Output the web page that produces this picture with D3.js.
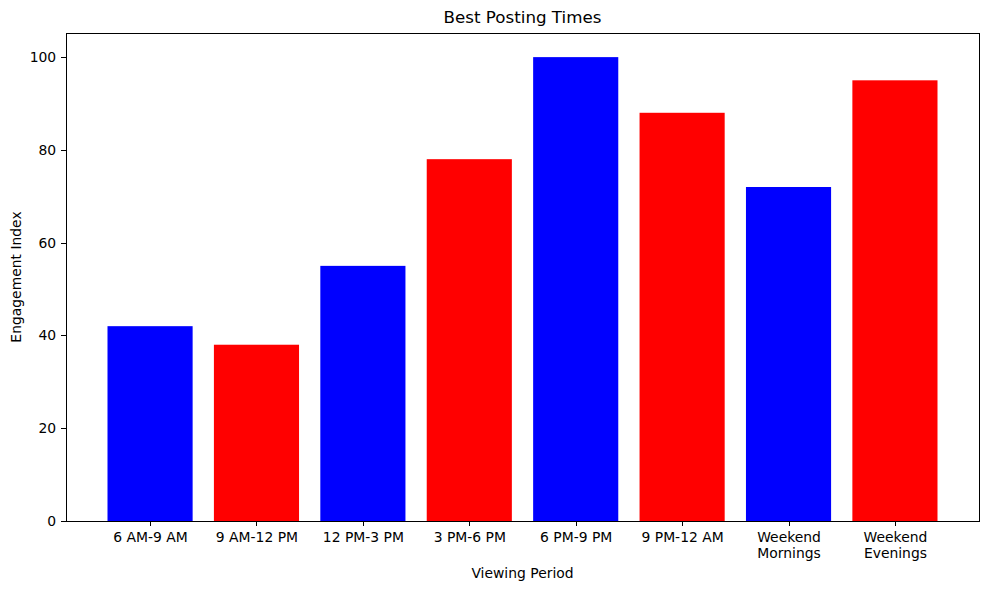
<!DOCTYPE html>
<html>
<head>
<meta charset="utf-8">
<script src="https://cdn.jsdelivr.net/npm/d3@7"></script>
<style>
  body { margin: 0; background: #fff; }
  text { font-family: "DejaVu Sans", sans-serif; }
</style>
</head>
<body>
<svg id="chart" width="989" height="590"></svg>
<script>
"use strict";

const periods = ["6 AM-9 AM", "9 AM-12 PM", "12 PM-3 PM", "3 PM-6 PM", "6 PM-9 PM", "9 PM-12 AM", "Weekend\nMornings", "Weekend\nEvenings"];
const engagement = [42, 38, 55, 78, 100, 88, 72, 95];
const barColors = ["#0000ff", "#ff0000", "#0000ff", "#ff0000", "#0000ff", "#ff0000", "#0000ff", "#ff0000"];
const yTicks = [0, 20, 40, 60, 80, 100];

const svg = d3.select("#chart");
const margin = { left: 66, right: 10, top: 33, bottom: 69 };
const width = 989 - margin.left - margin.right;
const height = 590 - margin.top - margin.bottom;

const g = svg.append("g").attr("transform", `translate(${margin.left},${margin.top})`);

const x = d3.scaleLinear().domain([-0.79, periods.length - 1 + 0.79]).range([0, width]);
const y = d3.scaleLinear().domain([0, 105.2]).range([height, 0]);
const barW = x(0.8) - x(0);

g.selectAll("rect.bar")
  .data(engagement)
  .enter()
  .append("rect")
  .attr("class", "bar")
  .attr("x", (d, i) => x(i) - barW / 2)
  .attr("y", (d) => y(d))
  .attr("width", barW)
  .attr("height", (d) => y(0) - y(d))
  .attr("fill", (d, i) => barColors[i]);

// y axis
const yAxis = g.append("g")
  .call(d3.axisLeft(y).tickValues(yTicks).tickSize(4.9).tickPadding(4.9));
yAxis.select(".domain").remove();
yAxis.selectAll("text").attr("font-size", "13.9px").attr("font-family", "DejaVu Sans").attr("fill", "#000");
yAxis.selectAll("line").attr("stroke", "#000").attr("stroke-width", 1).attr("shape-rendering", "crispEdges");

// x axis
const xAxis = g.append("g")
  .attr("transform", `translate(0,${height})`)
  .call(d3.axisBottom(x).tickValues(d3.range(periods.length)).tickSize(4.9).tickFormat(""));
xAxis.select(".domain").remove();
xAxis.selectAll("line").attr("stroke", "#000").attr("stroke-width", 1).attr("shape-rendering", "crispEdges");

xAxis.selectAll(".tick")
  .append("text")
  .attr("fill", "#000")
  .attr("font-size", "13.9px")
  .attr("font-family", "DejaVu Sans")
  .attr("text-anchor", "middle")
  .each(function (d) {
    const lines = periods[d].split("\n");
    d3.select(this).selectAll("tspan")
      .data(lines)
      .enter()
      .append("tspan")
      .attr("x", 0)
      .attr("y", (l, j) => 21 + j * 15.5)
      .text((l) => l);
  });

// frame
g.append("rect")
  .attr("width", width)
  .attr("height", height)
  .attr("fill", "none")
  .attr("stroke", "#000")
  .attr("stroke-width", 1)
  .attr("shape-rendering", "crispEdges");

// labels
svg.append("text")
  .attr("x", margin.left + width / 2)
  .attr("y", 23)
  .attr("text-anchor", "middle")
  .attr("font-size", "16.7px")
  .text("Best Posting Times");

svg.append("text")
  .attr("x", margin.left + width / 2)
  .attr("y", 578)
  .attr("text-anchor", "middle")
  .attr("font-size", "13.9px")
  .text("Viewing Period");

svg.append("text")
  .attr("transform", `translate(21,${margin.top + height / 2}) rotate(-90)`)
  .attr("text-anchor", "middle")
  .attr("font-size", "13.9px")
  .text("Engagement Index");
</script>
</body>
</html>
